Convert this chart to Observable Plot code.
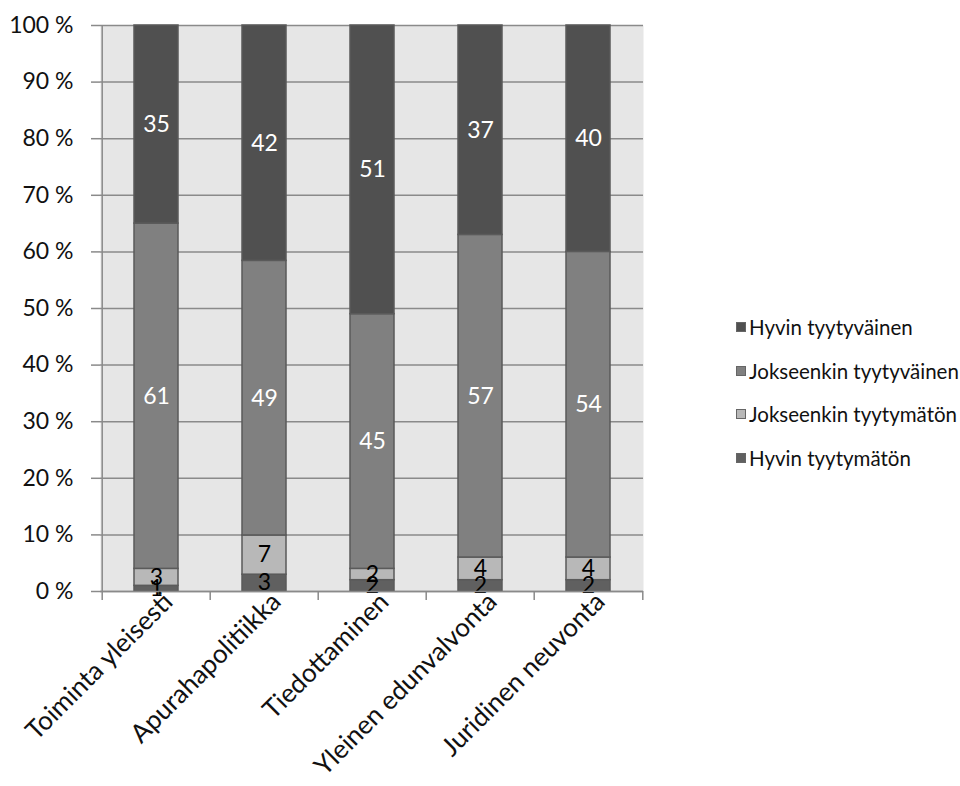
<!DOCTYPE html>
<html>
<head>
<meta charset="utf-8">
<script src="https://cdn.jsdelivr.net/npm/d3@7"></script>
<script src="https://cdn.jsdelivr.net/npm/@observablehq/plot@0.6"></script>
<style>
  html, body { margin: 0; padding: 0; background: #fff; }
  #wrap { position: relative; width: 960px; height: 786px; font-family: Lato, "Open Sans", sans-serif; }
  #legend { position: absolute; left: 736px; top: 305px; }
  .li { display: flex; align-items: center; height: 43.7px; font-size: 20.5px; color: #111; }
  .sw { width: 10px; height: 10px; margin-right: 3px; box-sizing: border-box; border: 1px solid #666; }
</style>
</head>
<body>
<div id="wrap"><div id="legend"></div></div>
<script>
const categories = ["Toiminta yleisesti", "Apurahapolitiikka", "Tiedottaminen", "Yleinen edunvalvonta", "Juridinen neuvonta"];
const seriesNames = ["Hyvin tyytymätön", "Jokseenkin tyytymätön", "Jokseenkin tyytyväinen", "Hyvin tyytyväinen"];
const hyvinTyytymaton = [1, 3, 2, 2, 2];
const jokseenkinTyytymaton = [3, 7, 2, 4, 4];
const jokseenkinTyytyvainen = [61, 49, 45, 57, 54];
const hyvinTyytyvainen = [35, 42, 51, 37, 40];
const colors = ["#606060", "#b8b8b8", "#808080", "#505050"];
const labelColors = ["#000", "#000", "#fff", "#fff"];
const yTicks = [0, 0.1, 0.2, 0.3, 0.4, 0.5, 0.6, 0.7, 0.8, 0.9, 1];

const seriesValues = [hyvinTyytymaton, jokseenkinTyytymaton, jokseenkinTyytyvainen, hyvinTyytyvainen];
const data = [];
seriesNames.forEach((s, si) => categories.forEach((c, ci) => data.push({cat: c, series: s, value: seriesValues[si][ci]})));

const W = 960, H = 786, mL = 100, mR = 317, mT = 25, mB = 195;
const half = (W - mL - mR) / categories.length / 2;
const stackOpts = {x: "cat", y: "value", z: "series", offset: "normalize", order: seriesNames};
const gridColor = "#8a8a8a";

const plot = Plot.plot({
  width: W, height: H,
  marginLeft: mL, marginRight: mR, marginTop: mT, marginBottom: mB,
  style: {fontFamily: "Lato, 'Open Sans', sans-serif", fontSize: "23px", color: "#111", background: "transparent"},
  x: {domain: categories, paddingInner: 0.595, paddingOuter: 0.2975, label: null},
  y: {domain: [0, 1], label: null},
  color: {domain: seriesNames, range: colors},
  marks: [
    Plot.frame({fill: "#e6e6e6", stroke: "none"}),
    Plot.ruleY(yTicks, {stroke: gridColor, strokeWidth: 1.5}),
    Plot.axisY({ticks: yTicks, tickFormat: d => Math.round(d * 100) + " %", tickSize: 9, tickPadding: 18, stroke: gridColor, strokeWidth: 1.5, fontSize: 23}),
    Plot.barY(data, Plot.stackY({...stackOpts, fill: "series", stroke: "#5a5a5a", strokeWidth: 1.5})),
    Plot.text(data, Plot.stackY({...stackOpts, text: "value", fill: d => labelColors[seriesNames.indexOf(d.series)], fontSize: 23})),
    Plot.ruleX([categories[0]], {x: d => d, dx: -half, y1: () => 0, y2: () => 1, stroke: gridColor, strokeWidth: 1.5}),
    Plot.ruleY([0], {stroke: gridColor, strokeWidth: 1.5}),
    Plot.ruleX(categories, {x: d => d, dx: -half, y1: () => 0, y2: () => -0.016, stroke: gridColor, strokeWidth: 1.5}),
    Plot.ruleX([categories[categories.length - 1]], {x: d => d, dx: half, y1: () => 0, y2: () => -0.016, stroke: gridColor, strokeWidth: 1.5}),
    Plot.axisX({tickSize: 0, tickRotate: -45, tickPadding: 6, fontSize: 26, dx: 12})
  ]
});
document.getElementById("wrap").prepend(plot);

const legend = document.getElementById("legend");
[...seriesNames].reverse().forEach(s => {
  const i = seriesNames.indexOf(s);
  const row = document.createElement("div");
  row.className = "li";
  const sw = document.createElement("span");
  sw.className = "sw";
  sw.style.background = colors[i];
  row.appendChild(sw);
  row.appendChild(document.createTextNode(s));
  legend.appendChild(row);
});
</script>
</body>
</html>
